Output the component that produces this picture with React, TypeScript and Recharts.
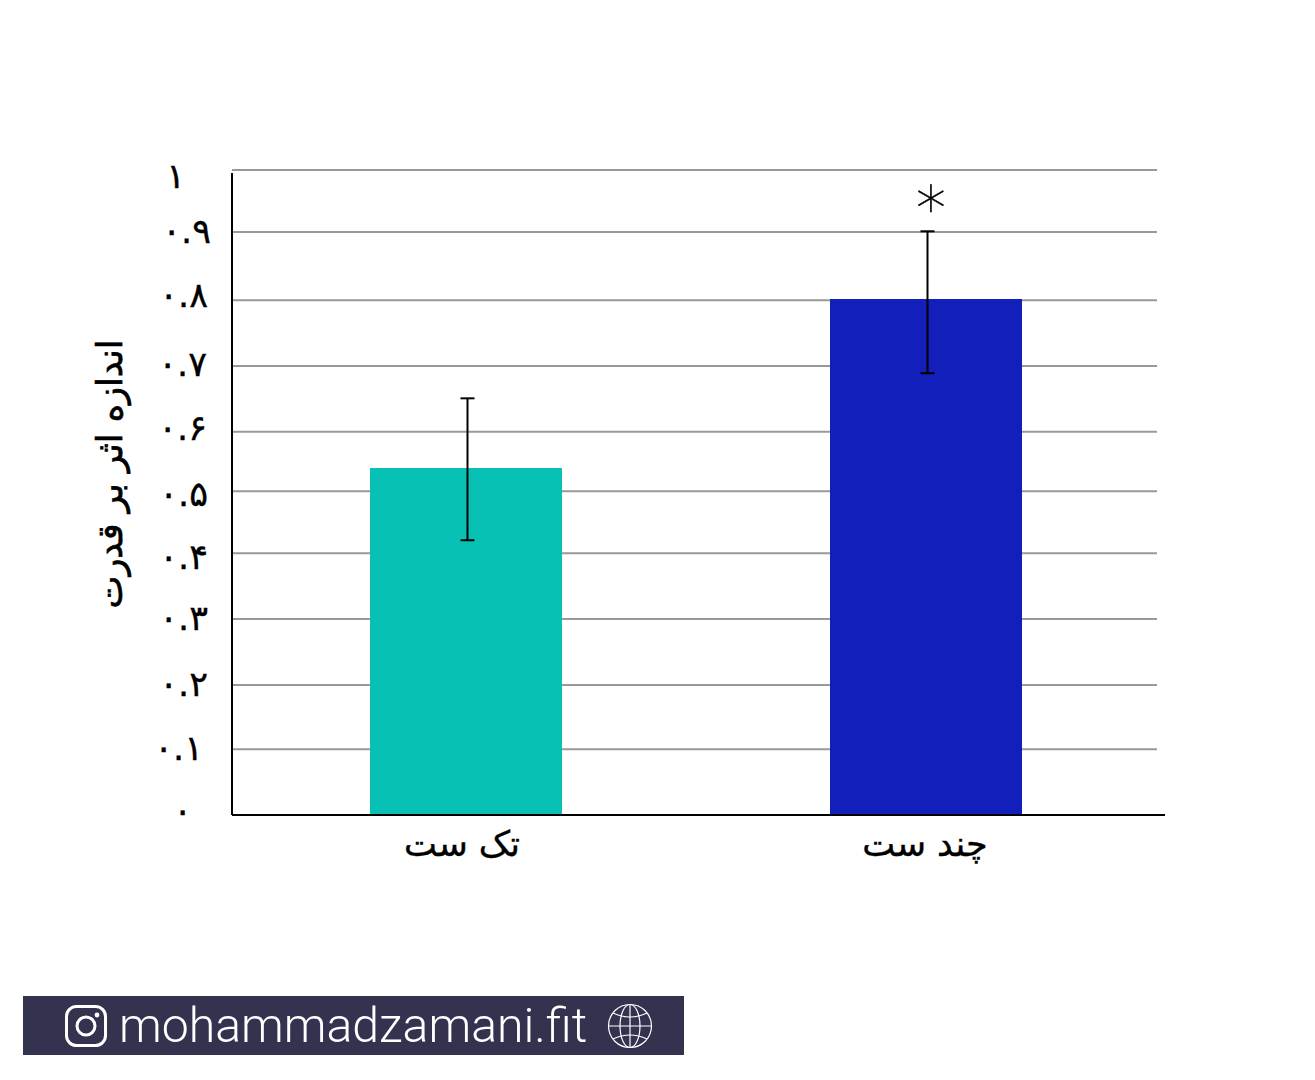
import React from 'react';
import { BarChart, Bar, Cell, XAxis, YAxis, CartesianGrid, ErrorBar, LabelList } from 'recharts';

const categories = ['تک ست', 'چند ست'];
const effectSize = [0.538, 0.8];
const errorRange = [[0.112, 0.108], [0.115, 0.105]];
const significance = ['', '*'];
const barColors = ['#08C1B5', '#121FBB'];

const yTicks = [0, 0.102, 0.2016, 0.304, 0.406, 0.502, 0.594, 0.696, 0.798, 0.904, 1];
const yTickLabels = ['۰', '۰.۱', '۰.۲', '۰.۳', '۰.۴', '۰.۵', '۰.۶', '۰.۷', '۰.۸', '۰.۹', '۱'];
const yTickNudge = [[-15, -3], [-4, 0], [1, 0], [1, 0], [1, 5], [1, 4], [0, -3], [0, -1], [1, -4], [4, 0], [-22, 7]];

const yAxisTitle = 'اندازه اثر بر قدرت';
const siteName = 'mohammadzamani.fit';

const chartData = categories.map((name, i) => ({
  name,
  value: effectSize[i],
  error: errorRange[i],
  mark: significance[i],
}));

const FONT = '"DejaVu Sans", sans-serif';

const YTick = ({ y, index }: any) => {
  const [dx, dy] = yTickNudge[index] || [0, 0];
  return (
    <text x={207 + dx} y={y + dy + 4} dy="0.2em" textAnchor="end" fontFamily={FONT} fontSize={35} stroke="#000" strokeWidth={0.4} fill="#000">
      {yTickLabels[index]}
    </text>
  );
};

const XTick = ({ x, y, payload, index }: any) => (
  <text x={x - (index === 0 ? 4 : 1)} y={y + 26} dy="0.2em" textAnchor="middle" fontFamily={FONT} fontSize={35} stroke="#000" strokeWidth={0.4} fill="#000">
    {payload.value}
  </text>
);

const MarkLabel = ({ x, y, width, value }: any) => {
  if (!value) return null;
  return (
    <text x={x + width / 2 + 5} y={y - 70} textAnchor="middle" fontFamily={FONT} fontSize={60} fontWeight={300} stroke="#000" strokeWidth={0.4} fill="#000">
      {value}
    </text>
  );
};

const InstagramIcon = () => (
  <svg width="42" height="42" viewBox="0 0 42 42" style={{ position: 'absolute', left: 42, top: 9 }}>
    <rect x="1.5" y="1.5" width="39" height="39" rx="10" fill="none" stroke="#fff" strokeWidth="3" />
    <circle cx="21" cy="21" r="9" fill="none" stroke="#fff" strokeWidth="3" />
    <circle cx="32" cy="10" r="2.4" fill="#fff" />
  </svg>
);

const GlobeIcon = () => (
  <svg width="46" height="46" viewBox="0 0 46 46" style={{ position: 'absolute', left: 584, top: 7 }}>
    <g fill="none" stroke="#fff" strokeWidth="1.2">
      <circle cx="23" cy="23" r="21.5" />
      <ellipse cx="23" cy="23" rx="10" ry="21.5" />
      <line x1="23" y1="1.5" x2="23" y2="44.5" />
      <line x1="1.5" y1="23" x2="44.5" y2="23" />
      <path d="M6 10 Q23 18 40 10" />
      <path d="M6 36 Q23 28 40 36" />
    </g>
  </svg>
);

export default function App() {
  return (
    <div style={{ position: 'absolute', left: 0, top: 0, width: 1315, height: 1080, background: '#fff', overflow: 'hidden' }}>
      <BarChart
        width={1315}
        height={1080}
        data={chartData}
        margin={{ top: 170, right: 150, bottom: 205, left: 0 }}
      >
        <CartesianGrid horizontal vertical={false} stroke="#999" strokeWidth={2} width={925} />
        <XAxis
          dataKey="name"
          height={60}
          interval={0}
          padding={{ left: 4, right: 9 }}
          tickLine={false}
          axisLine={{ stroke: '#000', strokeWidth: 2 }}
          tick={<XTick />}
        />
        <YAxis
          width={232}
          domain={[0, 1]}
          ticks={yTicks}
          interval={0}
          tickLine={false}
          axisLine={{ stroke: '#000', strokeWidth: 2, strokeDasharray: '0 3 645' }}
          tick={<YTick />}
          label={{
            value: yAxisTitle,
            position: 'insideLeft',
            content: () => (
              <text
                x={110}
                y={474}
                transform="rotate(-90 110 474)"
                textAnchor="middle"
                dominantBaseline="central"
                fontFamily={FONT}
                fontSize={35}
                stroke="#000"
                strokeWidth={0.7}
                fill="#000"
              >
                {yAxisTitle}
              </text>
            ),
          }}
        />
        <Bar dataKey="value" barSize={192} isAnimationActive={false}>
          {chartData.map((d, i) => (
            <Cell key={d.name} fill={barColors[i]} />
          ))}
          <ErrorBar
            dataKey="error"
            width={7}
            stroke="#000"
            strokeWidth={2}
            isAnimationActive={false}
            style={{ transform: 'translateX(1.5px)' }}
          />
          <LabelList dataKey="mark" content={<MarkLabel />} />
        </Bar>
      </BarChart>
      <div
        style={{
          position: 'absolute',
          left: 23,
          top: 996,
          width: 661,
          height: 59,
          background: '#33324F',
        }}
      >
        <InstagramIcon />
        <div
          style={{
            position: 'absolute',
            left: 96,
            top: 0,
            lineHeight: '59px',
            fontFamily: 'Roboto, sans-serif',
            fontWeight: 300,
            fontSize: 48.2,
            color: '#fff',
            whiteSpace: 'nowrap',
          }}
        >
          {siteName}
        </div>
        <GlobeIcon />
      </div>
    </div>
  );
}
